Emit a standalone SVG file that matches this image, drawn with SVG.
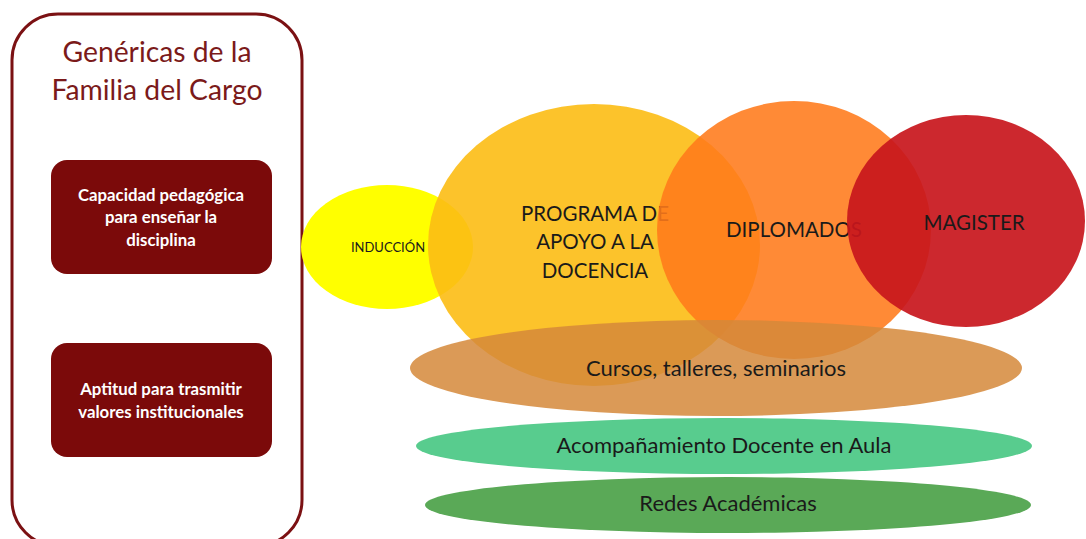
<svg xmlns="http://www.w3.org/2000/svg" width="1086" height="539" viewBox="0 0 1086 539">
<style>
.t{font-family:Lato,"Open Sans","Liberation Sans",sans-serif;text-anchor:middle}
.title{font-size:28.3px;fill:#7b1a1a}
.box{fill:#7b0a0a}
.bt{font-size:16.8px;font-weight:bold;fill:#ffffff}
.lab{font-size:20.5px;fill:#1a1a1a}
.low{font-size:22px;fill:#1a1a1a}
</style>
<rect width="1086" height="539" fill="#ffffff"/>
<g id="familia">
<rect x="12" y="14" width="290" height="532" rx="46" ry="46" fill="none" stroke="#7b1113" stroke-width="3"/>
<text class="t title" x="157" y="62">Genéricas de la</text>
<text class="t title" x="157" y="100">Familia del Cargo</text>
</g>
<g id="capacidad">
<rect class="box" x="51" y="160" width="221" height="114" rx="16"/>
<text class="t bt" x="161" y="201">Capacidad pedagógica</text>
<text class="t bt" x="161" y="223">para enseñar la</text>
<text class="t bt" x="161" y="246">disciplina</text>
</g>
<g id="aptitud">
<rect class="box" x="51" y="343" width="221" height="114" rx="16"/>
<text class="t bt" x="161" y="395">Aptitud para trasmitir</text>
<text class="t bt" x="161" y="418">valores institucionales</text>
</g>
<g id="induccion">
<ellipse cx="387" cy="247" rx="86" ry="62" fill="#ffff00"/>
<text class="t" x="388" y="252" font-size="13" fill="#1a1a1a">INDUCCIÓN</text>
</g>
<g id="programa">
<ellipse cx="594" cy="245" rx="166" ry="141" fill="#fcbc14" fill-opacity="0.9"/>
<text class="t lab" x="595" y="221">PROGRAMA DE</text>
<text class="t lab" x="595" y="249">APOYO A LA</text>
<text class="t lab" x="595" y="278">DOCENCIA</text>
</g>
<g id="diplomados">
<ellipse cx="794" cy="230" rx="137" ry="129" fill="#ff7a1a" fill-opacity="0.88"/>
<text class="t lab" x="794" y="237">DIPLOMADOS</text>
</g>
<g id="magister">
<ellipse cx="966" cy="221" rx="119" ry="106" fill="#c8161c" fill-opacity="0.92"/>
<text class="t lab" x="974" y="230">MAGISTER</text>
</g>
<g id="cursos">
<ellipse cx="716" cy="368" rx="306" ry="48" fill="#d5883a" fill-opacity="0.85"/>
<text class="t low" x="716" y="376">Cursos, talleres, seminarios</text>
</g>
<g id="acompanamiento">
<ellipse cx="724" cy="446" rx="308" ry="28" fill="#58cc8e"/>
<text class="t low" x="724" y="453">Acompañamiento Docente en Aula</text>
</g>
<g id="redes">
<ellipse cx="728" cy="505" rx="303" ry="28" fill="#5aa957"/>
<text class="t low" x="728" y="511">Redes Académicas</text>
</g>
<g id="connectors"></g>
</svg>
